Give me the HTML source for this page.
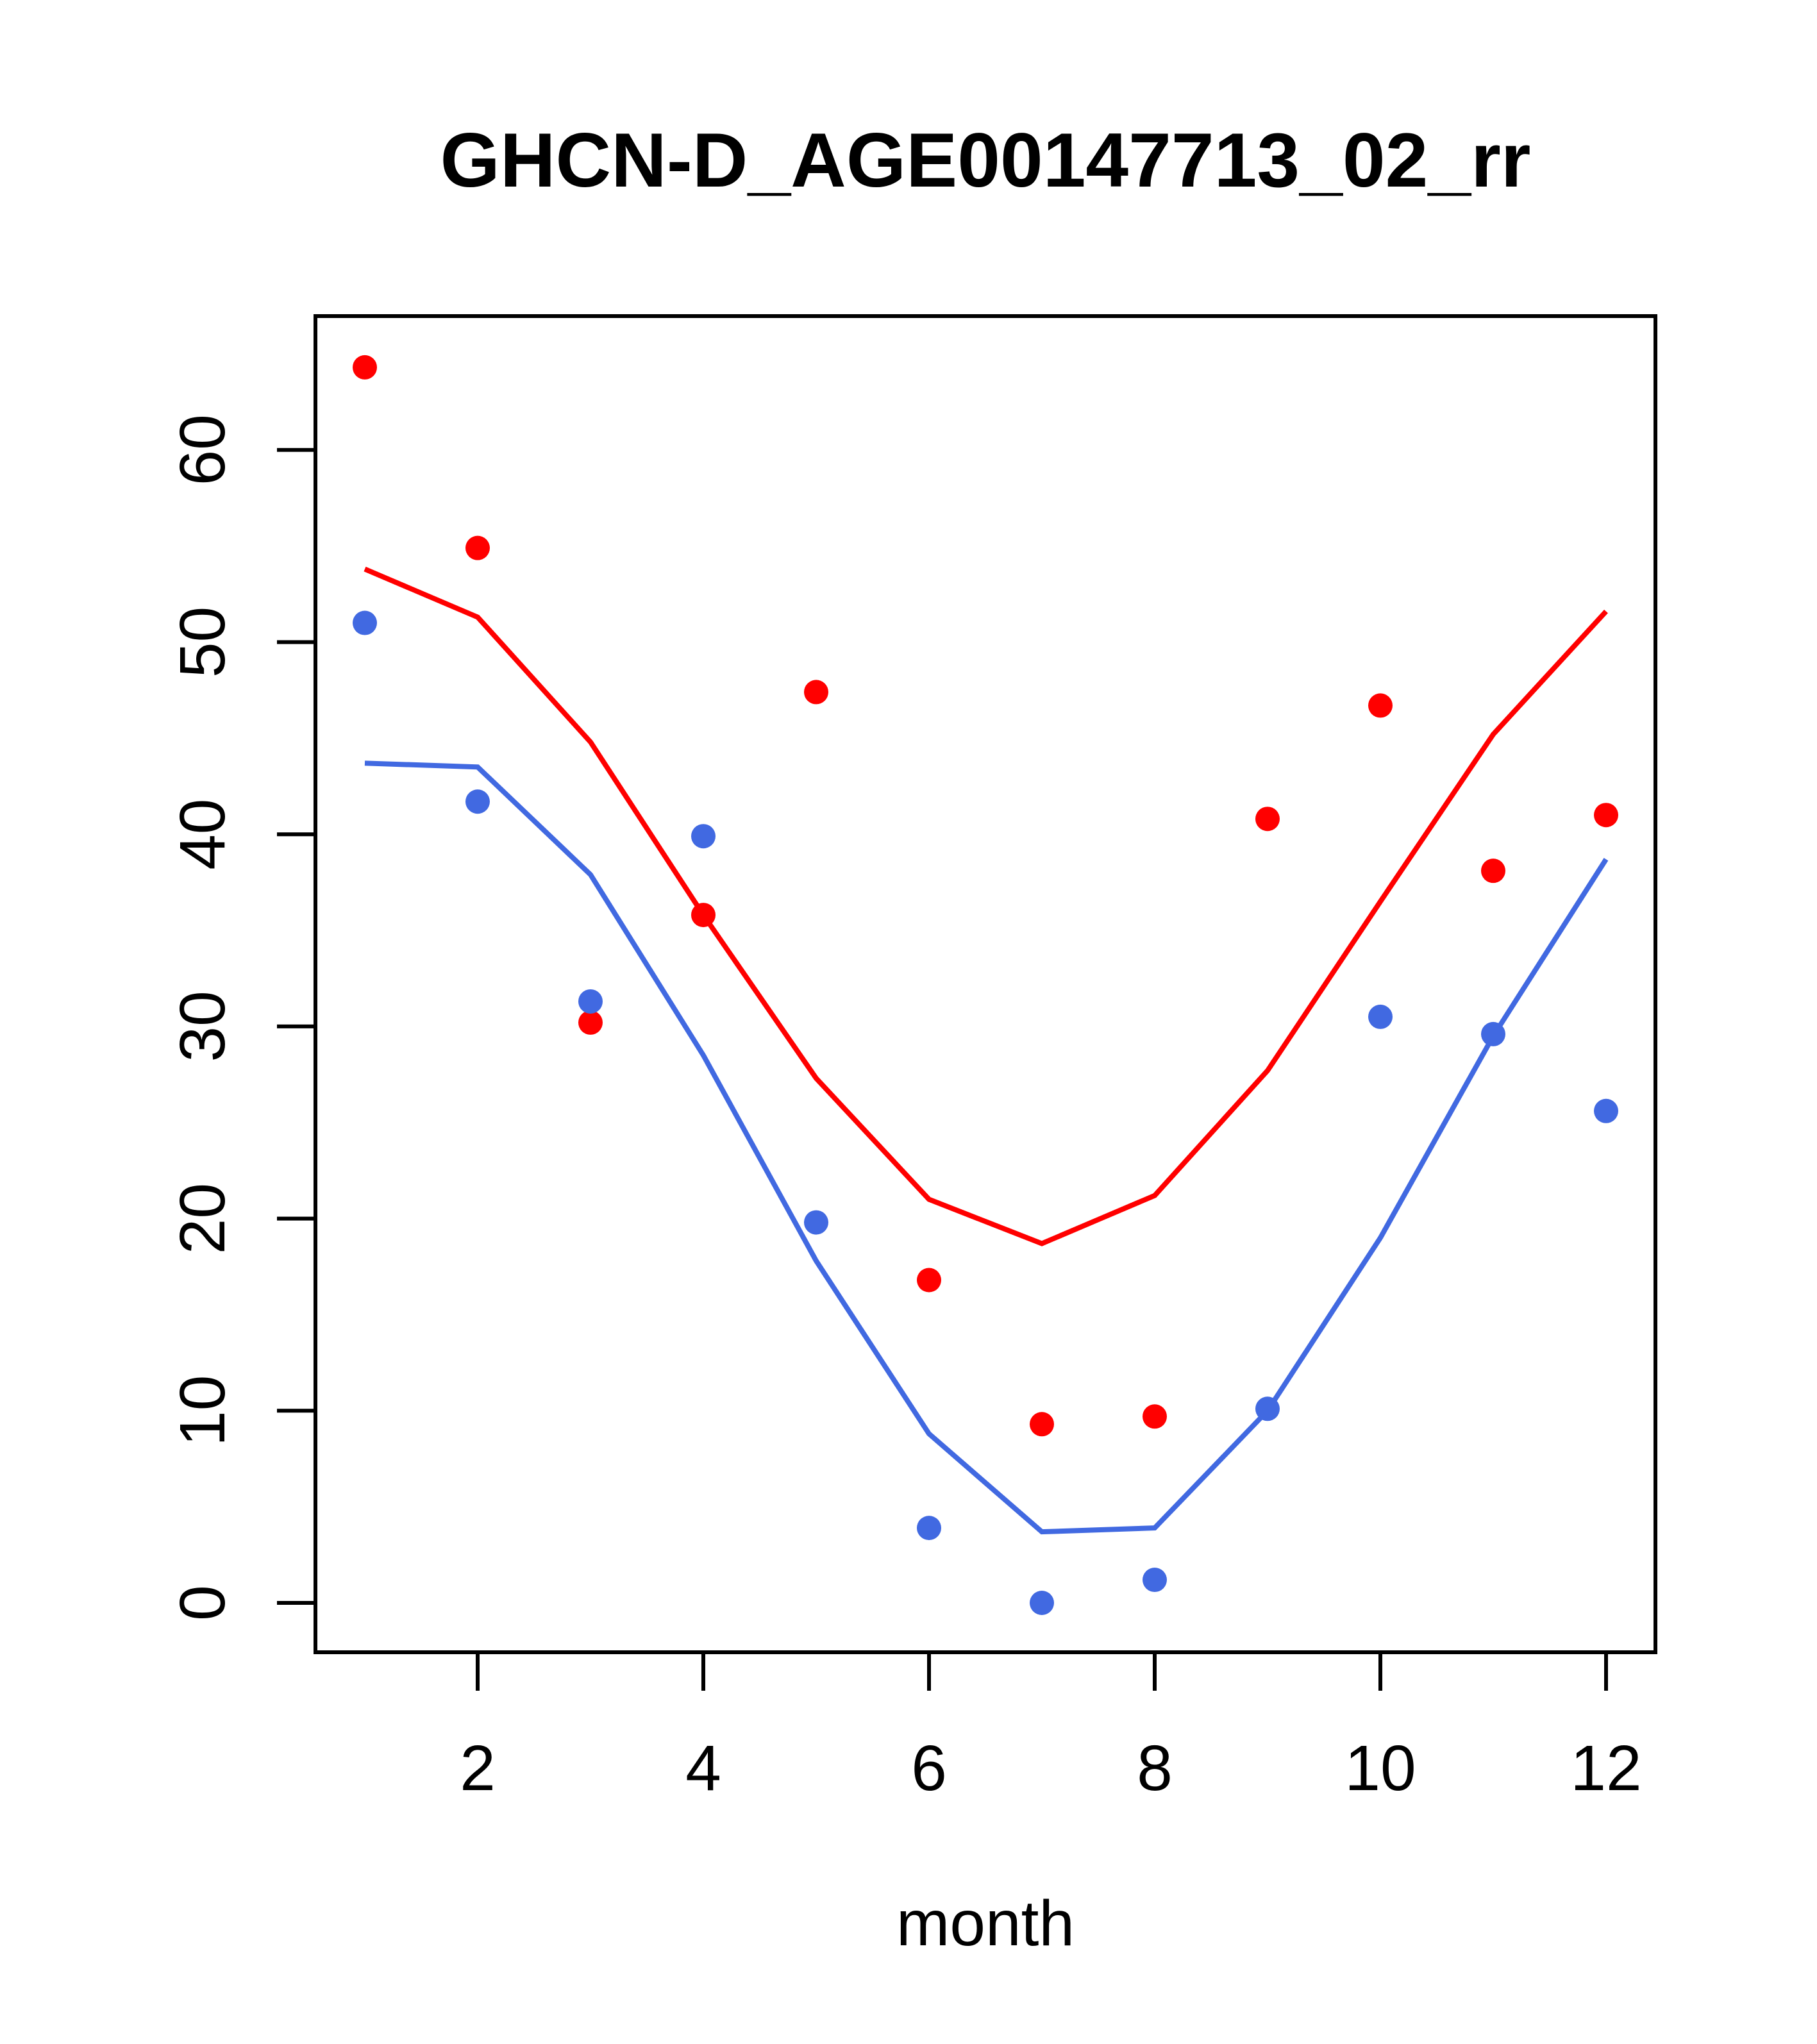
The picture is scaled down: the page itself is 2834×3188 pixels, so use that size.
<!DOCTYPE html>
<html><head><meta charset="utf-8"><style>html,body{margin:0;padding:0;background:#fff}svg{display:block}text{font-family:"Liberation Sans",sans-serif}</style></head>
<body>
<svg id="chart" width="2834" height="3188" viewBox="0 0 2834 3188" xmlns="http://www.w3.org/2000/svg">
<rect width="2834" height="3188" fill="#fff"/>
<text x="1537" y="291" font-size="120" font-weight="bold" text-anchor="middle">GHCN-D_AGE00147713_02_rr</text>
<text x="1537" y="3034" font-size="100" text-anchor="middle">month</text>
<g id="axes"></g>
<g id="marks"></g>
<rect x="492" y="493" width="2090" height="2084" fill="none" stroke="#000" stroke-width="6"/>
</svg>
<script>
const months = [1,2,3,4,5,6,7,8,9,10,11,12];
const redPoints = [64.3,54.9,30.2,35.8,47.4,16.8,9.3,9.7,40.8,46.7,38.1,41.0];
const redLine = [53.8,51.3,44.8,35.8,27.3,21.0,18.7,21.2,27.7,36.5,45.2,51.6];
const bluePoints = [51.0,41.7,31.3,39.9,19.8,3.9,0.0,1.2,10.1,30.5,29.6,25.6];
const blueLine = [43.7,43.5,37.9,28.5,17.8,8.8,3.7,3.9,10.0,19.0,29.5,38.7];
const xTicks = [2,4,6,8,10,12];
const yTicks = [0,10,20,30,40,50,60];

const NS='http://www.w3.org/2000/svg';
function sx(m){return 569+(m-1)*176;}
function sy(v){return 2500-v*29.97;}
function mk(tag,attrs,parent){const e=document.createElementNS(NS,tag);for(const k in attrs)e.setAttribute(k,attrs[k]);parent.appendChild(e);return e;}
const axes=document.getElementById('axes'), marks=document.getElementById('marks');

xTicks.forEach(t=>{
  const l=mk('line',{x1:sx(t),x2:sx(t),y1:2577,y2:2637,stroke:'#000','stroke-width':6},axes);
  
  
  const tx=mk('text',{x:sx(t),y:2792,'font-size':100,'text-anchor':'middle'},axes);
  tx.textContent=t;
  
  
});
yTicks.forEach(t=>{
  const l=mk('line',{x1:432,x2:492,y1:sy(t),y2:sy(t),stroke:'#000','stroke-width':6},axes);
  
  
  const tx=mk('text',{x:0,y:0,'font-size':100,'text-anchor':'middle',transform:'translate(350,'+sy(t)+') rotate(-90)'},axes);
  tx.textContent=t;
  
  
});
function line(vals,color,name){
  const p=mk('polyline',{points:vals.map((v,i)=>sx(months[i])+','+sy(v)).join(' '),fill:'none',stroke:color,'stroke-width':8},marks);
  
  
}
function pts(vals,color,name){
  vals.forEach((v,i)=>{
    const c=mk('circle',{cx:sx(months[i]),cy:sy(v),r:19,fill:color},marks);
    
    
  });
}
line(redLine,'#ff0000','red-line');
line(blueLine,'#4169e1','blue-line');
pts(redPoints,'#ff0000','red-point');
pts(bluePoints,'#4169e1','blue-point');
</script>
</body></html>
